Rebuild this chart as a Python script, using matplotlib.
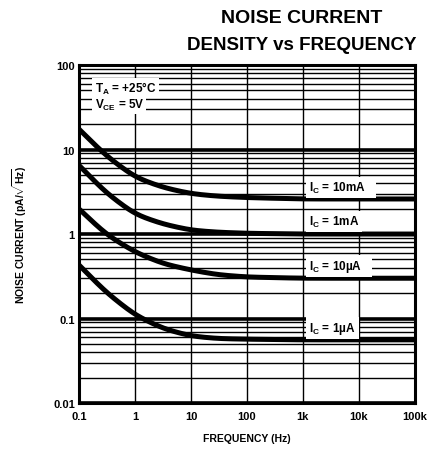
import numpy as np
import matplotlib.pyplot as plt
from matplotlib.ticker import LogLocator, NullLocator, FixedLocator

plt.rcParams['font.family'] = ['Liberation Sans', 'DejaVu Sans']
plt.rcParams['font.weight'] = 'bold'
plt.rcParams['mathtext.fontset'] = 'custom'
plt.rcParams['mathtext.rm'] = 'Liberation Sans:bold'
plt.rcParams['mathtext.it'] = 'Liberation Sans:bold'
plt.rcParams['mathtext.bf'] = 'Liberation Sans:bold'

# frequency points (Hz)
freq = [0.1, 0.3, 1, 3.2, 10, 30, 100, 1e3, 1e5]

# noise current (pA/sqrt(Hz)) for each collector current
i_10mA = [17.4, 8.5, 4.7, 3.55, 3.0, 2.8, 2.7, 2.6, 2.6]
i_1mA = [6.5, 3.1, 1.71, 1.31, 1.11, 1.05, 1.02, 1.0, 1.0]
i_10uA = [1.98, 1.0, 0.61, 0.445, 0.375, 0.33, 0.31, 0.3, 0.3]
i_1uA = [0.43, 0.206, 0.11, 0.076, 0.062, 0.058, 0.057, 0.056, 0.056]

x_ticks = [0.1, 1, 10, 100, 1e3, 1e4, 1e5]
x_labels = ['0.1', '1', '10', '100', '1k', '10k', '100k']
y_ticks = [0.01, 0.1, 1, 10, 100]
y_labels = ['0.01', '0.1', '1', '10', '100']


def smooth_curve(vals, n=600, sigma=0.15):
    # linear interpolation in log-log, then gaussian smoothing (sigma in decades)
    lx = np.linspace(-1, 5, n)
    ly = np.interp(lx, np.log10(freq), np.log10(vals))
    step = lx[1] - lx[0]
    half = int(4 * sigma / step)
    kx = np.arange(-half, half + 1) * step
    k = np.exp(-0.5 * (kx / sigma) ** 2)
    k /= k.sum()
    slope0 = (ly[1] - ly[0])
    left = ly[0] - slope0 * np.arange(half, 0, -1)
    right = np.full(half, ly[-1])
    pad = np.concatenate([left, ly, right])
    sm = np.convolve(pad, k, mode='valid')
    return 10 ** lx, 10 ** sm


fig = plt.figure(figsize=(4.39, 4.52), dpi=100)
ax = fig.add_axes([0.18, 0.106, 0.765, 0.748])
ax.set_xscale('log')
ax.set_yscale('log')
ax.set_xlim(0.1, 1e5)
ax.set_ylim(0.01, 100)

ax.xaxis.set_major_locator(FixedLocator(x_ticks))
ax.xaxis.set_minor_locator(NullLocator())
ax.yaxis.set_major_locator(FixedLocator(y_ticks))
ax.yaxis.set_minor_locator(LogLocator(base=10, subs=np.arange(2, 10)))
ax.set_xticklabels(x_labels, fontsize=8, fontweight='bold')
ax.set_yticklabels(y_labels, fontsize=8, fontweight='bold')
ax.tick_params(axis='x', which='both', length=0, pad=6)
ax.tick_params(axis='y', which='both', length=0, pad=3)

ax.grid(axis='x', which='major', color='black', linewidth=1.0)
ax.grid(axis='y', which='major', color='black', linewidth=2.6)
ax.grid(axis='y', which='minor', color='black', linewidth=1.0)
ax.set_axisbelow(True)
for s in ax.spines.values():
    s.set_linewidth(2.2)

for vals in [i_10mA, i_1mA, i_10uA, i_1uA]:
    fs, ys = smooth_curve(vals)
    ax.plot(fs, ys, color='black', linewidth=3.6, solid_capstyle='butt', zorder=3)

box = dict(facecolor='white', edgecolor='none', pad=1.5)
ax.text(0.19, 48, r'T$_\mathregular{A}$ = +25°C', fontsize=8.5, fontweight='bold', bbox=box, zorder=4)
ax.text(0.19, 31, r'V$_\mathregular{CE}$ = 5V', fontsize=8.5, fontweight='bold', bbox=box, zorder=4)

lab_x = 1300
lab_box = dict(facecolor='white', edgecolor='none', boxstyle='square,pad=0.25')
ax.text(lab_x, 3.6, r'I$_\mathregular{C}$ = 10mA   ', fontsize=8.5, fontweight='bold', va='center', bbox=lab_box, zorder=4)
ax.text(lab_x, 1.4, r'I$_\mathregular{C}$ = 1mA', fontsize=8.5, fontweight='bold', va='center', bbox=lab_box, zorder=4)
ax.text(lab_x, 0.42, r'I$_\mathregular{C}$ = 10µA   ', fontsize=8.5, fontweight='bold', va='center', bbox=lab_box, zorder=4)
ax.text(lab_x, 0.078, r'I$_\mathregular{C}$ = 1µA', fontsize=8.5, fontweight='bold', va='center', bbox=lab_box, zorder=4)

ax.set_xlabel('FREQUENCY (Hz)', fontsize=7.5, fontweight='bold', labelpad=8)
ax.set_ylabel(r'NOISE CURRENT (pA/$\sqrt{\mathregular{Hz}}$)', fontsize=7.5, fontweight='bold', labelpad=17)

fig.text(0.688, 0.96, 'NOISE CURRENT', fontsize=14, fontweight='bold', ha='center', va='center')
fig.text(0.688, 0.90, 'DENSITY vs FREQUENCY', fontsize=13.5, fontweight='bold', ha='center', va='center')

plt.savefig('out.png', dpi=100)
